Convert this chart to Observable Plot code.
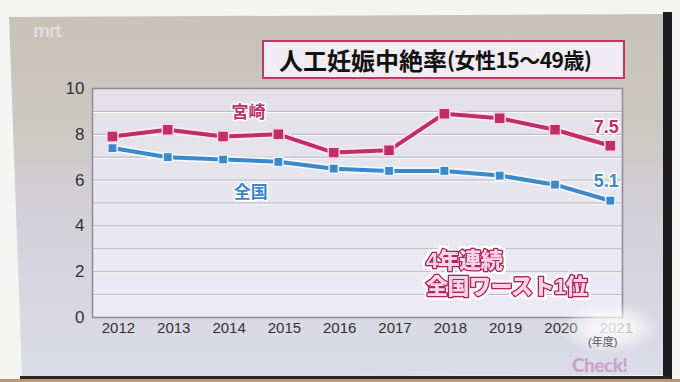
<!DOCTYPE html>
<html><head><meta charset="utf-8">
<script src="https://cdn.jsdelivr.net/npm/d3@7"></script>
<script src="https://cdn.jsdelivr.net/npm/@observablehq/plot@0.6"></script>
<style>
html,body{margin:0;padding:0;background:#f4f4f2;}
#wrap{position:relative;width:680px;height:382px;overflow:hidden;font-family:"Noto Sans CJK JP","Noto Sans",sans-serif;}
#strip{position:absolute;left:663px;top:12px;width:9px;height:368px;background:#1c1c1e;}
#screen{position:absolute;left:0;top:0;width:680px;height:382px;
 background:linear-gradient(180deg,#c6c2b8 0px,#cbc8c2 120px,#d4d3dc 240px,#dcdbe9 380px);
 clip-path:polygon(9px 17px,667px 14px,664px 375px,22px 377px);}
#bottomline{position:absolute;left:20px;top:376px;width:650px;height:3px;background:#2a2624;}
#floor{position:absolute;left:0;top:379px;width:680px;height:3px;background:#b89a7a;}
#logo{position:absolute;left:33px;top:20px;font:bold 19px/22px "Liberation Sans",Arial,sans-serif;color:rgba(255,255,255,0.45);letter-spacing:-1px;}
#title{position:absolute;left:262px;top:40px;width:359px;height:35px;background:#efedf3;border:2px solid #c43466;box-sizing:content-box;
 font-weight:700;color:#111;white-space:nowrap;line-height:35px;}
#title .a{position:absolute;left:15px;font-size:24px;}
#title .b{position:absolute;left:183px;font-size:21px;letter-spacing:-0.5px;}
#chart{position:absolute;left:0;top:0;}
#glare{position:absolute;left:560px;top:300px;width:100px;height:60px;
 background:radial-gradient(ellipse 50px 26px at 50px 28px,rgba(255,255,255,0.85) 0%,rgba(255,255,255,0.65) 45%,rgba(255,255,255,0) 100%);}
#nendo{position:absolute;left:588px;top:336px;font:11px/12px "Liberation Sans","Noto Sans CJK JP",sans-serif;color:#555;}
#check{position:absolute;left:572px;top:355px;font:900 19px/19px "Lato","Liberation Sans",sans-serif;color:#c9a3ca;letter-spacing:-0.5px;}
#note{position:absolute;left:0;top:0;}
</style></head>
<body>
<div id="wrap">
 <div id="screen"></div>
 <div id="strip"></div>
 <div id="bottomline"></div>
 <div id="floor"></div>
 <div id="logo">mrt</div>
 <div id="title"><span class="a">人工妊娠中絶率</span><span class="b">(女性15～49歳)</span></div>
 <div id="chart"></div>
 <svg id="note" width="680" height="382">
  <defs>
   <filter id="whiteout" x="-10%" y="-30%" width="120%" height="160%">
    <feMorphology in="SourceAlpha" operator="dilate" radius="2" result="d"/>
    <feFlood flood-color="#ffffff"/>
    <feComposite in2="d" operator="in" result="w"/>
    <feMerge><feMergeNode in="w"/><feMergeNode in="SourceGraphic"/></feMerge>
   </filter>
  </defs>
  <g filter="url(#whiteout)" style="font-family:'Liberation Sans','Noto Sans CJK JP',sans-serif;font-weight:900;font-size:22px;letter-spacing:-0.5px"
     stroke="#b42462" stroke-width="3" stroke-linejoin="round" fill="#f7d5e6" paint-order="stroke fill">
   <text x="426" y="268">4年連続</text>
   <text x="426" y="294">全国ワースト1位</text>
  </g>
 </svg>
 <div id="glare"></div>
 <div id="nendo">(年度)</div>
 <div id="check">Check!</div>
</div>
<script>
const years = [2012, 2013, 2014, 2015, 2016, 2017, 2018, 2019, 2020, 2021];
const miyazaki = [7.9, 8.2, 7.9, 8.0, 7.2, 7.3, 8.9, 8.7, 8.2, 7.5];
const national = [7.4, 7.0, 6.9, 6.8, 6.5, 6.4, 6.4, 6.2, 5.8, 5.1];
const yTicks = [0, 2, 4, 6, 8, 10];
const gridValues = [1, 2, 3, 4, 5, 6, 7, 8, 9];
const seriesNames = ["宮崎", "全国"];
const nameLabelX = [2014.46, 2014.5];
const nameLabelY = [8.95, 5.45];

const pink = "#c22d67", blue = "#3b88cb";
const mData = years.map((y, i) => ({year: y, value: miyazaki[i]}));
const nData = years.map((y, i) => ({year: y, value: national[i]}));
const nameLabels = seriesNames.map((n, i) => ({name: n, x: nameLabelX[i], y: nameLabelY[i], color: i === 0 ? pink : blue}));

const chart = Plot.plot({
  width: 680, height: 382,
  marginLeft: 92, marginRight: 58, marginTop: 88, marginBottom: 65,
  style: {background: "transparent", fontFamily: "'Liberation Sans', Arial, sans-serif", color: "#333", overflow: "visible"},
  x: {type: "linear", domain: [2011.64, 2021.22]},
  y: {domain: [0, 10]},
  marks: [
    Plot.frame({fill: "url(#plotbg)", stroke: "none"}),
    Plot.ruleY(gridValues, {stroke: "#ffffff", strokeOpacity: 0.9, dy: 1}),
    Plot.ruleY(gridValues, {stroke: "#b7b5bf", strokeWidth: 1}),
    Plot.frame({stroke: "#8d8c94", strokeWidth: 1.5}),
    Plot.axisY({ticks: yTicks, tickSize: 0, tickPadding: 8, fontSize: 17, label: null, fill: "#333"}),
    Plot.axisX({ticks: years, tickFormat: d => String(d), tickSize: 0, tickPadding: 5, fontSize: 15, label: null, fill: "#333", dx: 6}),
    // national
    Plot.line(nData, {x: "year", y: "value", stroke: "#f4f8fc", strokeWidth: 7.5}),
    Plot.line(nData, {x: "year", y: "value", stroke: blue, strokeWidth: 4}),
    Plot.dot(nData, {x: "year", y: "value", symbol: "square", r: 5.2, fill: blue, stroke: "#e8f2fb", strokeWidth: 1.5}),
    // miyazaki
    Plot.line(mData, {x: "year", y: "value", stroke: "#fbe9f0", strokeWidth: 7.5}),
    Plot.line(mData, {x: "year", y: "value", stroke: pink, strokeWidth: 4}),
    Plot.dot(mData, {x: "year", y: "value", symbol: "square", r: 6.2, fill: pink, stroke: "#f8d8e4", strokeWidth: 1.5}),
    // end value labels
    Plot.text([mData[mData.length - 1]], {x: "year", y: "value", text: d => d.value.toFixed(1), dy: -19, dx: -4,
      fill: pink, stroke: "#fff", strokeWidth: 3, fontSize: 18, fontWeight: "bold", letterSpacing: -1}),
    Plot.text([nData[nData.length - 1]], {x: "year", y: "value", text: d => d.value.toFixed(1), dy: -19, dx: -4,
      fill: blue, stroke: "#fff", strokeWidth: 3, fontSize: 18, fontWeight: "bold", letterSpacing: -1}),
    // series names
    Plot.text(nameLabels, {x: "x", y: "y", text: "name", fill: "color", stroke: "#fff", strokeWidth: 3,
      fontSize: 17, fontWeight: "bold", fontFamily: "'Noto Sans CJK JP', sans-serif"})
  ]
});

const ns = "http://www.w3.org/2000/svg";
const defs = document.createElementNS(ns, "defs");
defs.innerHTML = '<linearGradient id="plotbg" x1="0" y1="0" x2="0" y2="1">' +
  '<stop offset="0" stop-color="#e3e1e7"/><stop offset="1" stop-color="#eceaf5"/></linearGradient>';
chart.insertBefore(defs, chart.firstChild);
document.getElementById("chart").appendChild(chart);
</script>
</body></html>
